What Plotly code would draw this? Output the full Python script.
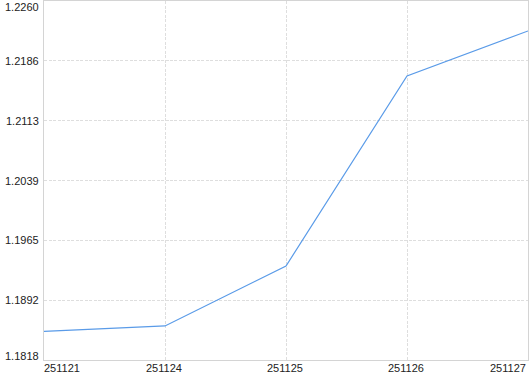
import plotly.graph_objects as go

categories = ["251121", "251124", "251125", "251126", "251127"]
values = [1.18533, 1.18599, 1.19337, 1.21677, 1.22231]
y_ticks = [1.1818, 1.1892, 1.1965, 1.2039, 1.2113, 1.2186, 1.2260]
y_tick_labels = ["1.1818", "1.1892", "1.1965", "1.2039", "1.2113", "1.2186", "1.2260"]

y_min, y_max = 1.1818, 1.2260
y_grid = [y_min + i * (y_max - y_min) / 6 for i in range(7)]
xpos = list(range(len(categories)))

fig = go.Figure()
fig.add_trace(go.Scatter(x=xpos, y=values, mode="lines",
                         line=dict(color="#5a9be8", width=1.2),
                         hoverinfo="skip"))

font = dict(family="Liberation Sans, Arial, sans-serif", size=11, color="#222222")
ann = []
n = len(y_grid)
for i, (yv, lab) in enumerate(zip(y_grid, y_tick_labels)):
    ys = 0
    if i == 0:
        ys = 4
    elif i == n - 1:
        ys = -6
    ann.append(dict(x=0, xref="paper", y=yv, yref="y", text=lab, showarrow=False,
                    xanchor="right", yanchor="middle", xshift=-3, yshift=ys, font=font))
for i, lab in enumerate(categories):
    if i == 0:
        xa, xs = "left", -2
    elif i == len(categories) - 1:
        xa, xs = "right", 0
    else:
        xa, xs = "center", -1
    ann.append(dict(x=xpos[i], xref="x", y=0, yref="paper", text=lab, showarrow=False,
                    xanchor=xa, yanchor="middle", xshift=xs, yshift=-8, font=font))

fig.update_layout(
    width=530, height=374,
    margin=dict(l=44, r=2, t=1, b=14),
    paper_bgcolor="white", plot_bgcolor="white",
    showlegend=False,
    annotations=ann,
    xaxis=dict(range=[0, len(categories) - 1], tickvals=xpos, showticklabels=False,
               showgrid=True, gridcolor="#dedede", griddash="3px,1.5px", gridwidth=1,
               showline=True, linecolor="#d4d4d4", linewidth=1, mirror=True,
               zeroline=False, ticks=""),
    yaxis=dict(range=[y_min, y_max], tickvals=y_grid, showticklabels=False,
               showgrid=True, gridcolor="#dedede", griddash="3px,1.5px", gridwidth=1,
               showline=True, linecolor="#d4d4d4", linewidth=1, mirror=True,
               zeroline=False, ticks=""),
)

fig.write_html("out.html")
